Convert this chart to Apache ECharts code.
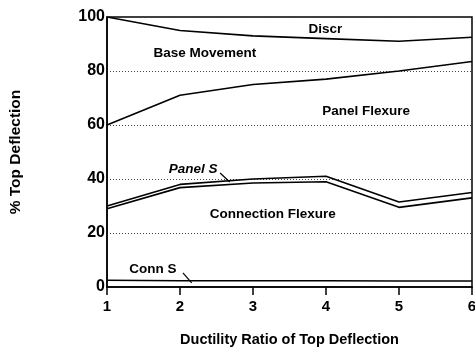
<!DOCTYPE html>
<html><head><meta charset="utf-8">
<script src="https://cdn.jsdelivr.net/npm/echarts@6/dist/echarts.min.js"></script>
<style>html,body{margin:0;padding:0;background:#fff}#c{width:475px;height:347px}</style>
</head><body><div id="c"></div>
<script>
const ductility = [1, 2, 3, 4, 5, 6];
const discrBottom = [100, 95, 93, 92, 91, 92.5];
const baseBottom = [60, 71, 75, 77, 80, 83.5];
const panelSTop = [30, 38, 40, 41, 31.5, 35];
const connFlexTop = [29, 36.8, 38.5, 39, 29.5, 33];
const connSTop = [2.5, 2.3, 2.3, 2.3, 2.2, 2.2];
const yTicks = [0, 20, 40, 60, 80, 100];
const xTicks = [1, 2, 3, 4, 5, 6];
const labels = [
  {name: 'Discr', x: 3.99, y: 95.6, italic: false},
  {name: 'Base Movement', x: 2.34, y: 86.7, italic: false},
  {name: 'Panel Flexure', x: 4.55, y: 65.2, italic: false},
  {name: 'Panel S', x: 2.18, y: 43.7, italic: true},
  {name: 'Connection Flexure', x: 3.27, y: 27, italic: false},
  {name: 'Conn S', x: 1.63, y: 6.7, italic: false}
];
const panelSLeader = [[2.55, 42.2], [2.68, 38.9]];
const connSLeader = [[2.04, 5.2], [2.16, 1.5]];

const F = 'Liberation Sans, Arial, Helvetica, sans-serif';
function pairs(ys) { return ductility.map((x, i) => [x, ys[i]]); }
function lineSeries(ys, w) {
  return {type: 'line', data: pairs(ys), symbol: 'none', silent: true,
    lineStyle: {color: '#000', width: w || 1.6}, z: 3};
}
const chart = echarts.init(document.getElementById('c'));
chart.setOption({
  animation: false,
  grid: {left: 107, right: 3, top: 17, bottom: 60, show: true, borderColor: '#000', borderWidth: 1.5,
    backgroundColor: 'transparent', containLabel: false, outerBoundsMode: 'none'},
  xAxis: {type: 'value', min: 1, max: 6, interval: 1,
    name: 'Ductility Ratio of Top Deflection', nameLocation: 'middle', nameGap: 45,
    nameTextStyle: {fontFamily: F, fontWeight: 'bold', fontSize: 14.5, color: '#000'},
    axisLine: {show: true, lineStyle: {color: '#000', width: 1.5}},
    axisTick: {show: true, inside: false, length: 8, lineStyle: {color: '#000', width: 1.5}},
    axisLabel: {fontFamily: F, fontWeight: 'bold', fontSize: 15, color: '#000', margin: 12,
      formatter: v => xTicks.includes(v) ? String(v) : ''},
    splitLine: {show: false}},
  yAxis: {type: 'value', min: 0, max: 100, interval: 20,
    name: '% Top Deflection', nameLocation: 'middle', nameGap: 83, nameRotate: 90,
    nameTextStyle: {fontFamily: F, fontWeight: 'bold', fontSize: 15.5, color: '#000'},
    axisLine: {show: true, lineStyle: {color: '#000', width: 1.5}},
    axisTick: {show: false},
    axisLabel: {fontFamily: F, fontWeight: 'bold', fontSize: 16, color: '#000', margin: 2,
      formatter: v => yTicks.includes(v) ? String(v) : ''},
    splitLine: {show: true, lineStyle: {color: '#444', type: [1, 2], width: 1}}},
  series: [
    lineSeries(discrBottom),
    lineSeries(baseBottom),
    lineSeries(panelSTop),
    lineSeries(connFlexTop),
    lineSeries(connSTop),
    {type: 'line', data: panelSLeader, symbol: 'none', silent: true, lineStyle: {color: '#000', width: 1.2}},
    {type: 'line', data: connSLeader, symbol: 'none', silent: true, lineStyle: {color: '#000', width: 1.2}},
    {type: 'scatter', symbolSize: 0, silent: true, z: 5, itemStyle: {opacity: 1},
      data: labels.map(l => ({value: [l.x, l.y], name: l.name,
        label: {show: true, position: 'inside', formatter: l.name, color: '#000',
          textBorderWidth: 0, textBorderColor: 'transparent',
          fontFamily: F, fontWeight: 'bold', fontSize: 13.5, fontStyle: l.italic ? 'italic' : 'normal'}}))}
  ]
});
</script></body></html>
